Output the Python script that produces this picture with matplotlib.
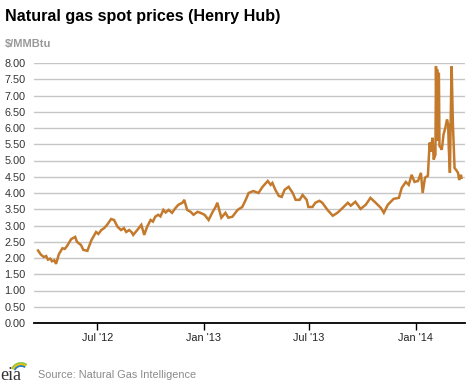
import numpy as np
import pandas as pd
import matplotlib
matplotlib.use("Agg")
import matplotlib.pyplot as plt
import matplotlib.dates as mdates
from matplotlib.patches import Arc

plt.rcParams['font.family'] = ['Liberation Sans', 'DejaVu Sans']

# Henry Hub spot price, $/MMBtu
dates = [
    "2012-03-21", "2012-03-26", "2012-03-31", "2012-04-04", "2012-04-07", "2012-04-11",
    "2012-04-14", "2012-04-18", "2012-04-21", "2012-04-26", "2012-05-02", "2012-05-06",
    "2012-05-10", "2012-05-17", "2012-05-24", "2012-05-27", "2012-06-03", "2012-06-07",
    "2012-06-14", "2012-06-21", "2012-06-29", "2012-07-03", "2012-07-08", "2012-07-13",
    "2012-07-18", "2012-07-25", "2012-07-30", "2012-08-05", "2012-08-11", "2012-08-16",
    "2012-08-20", "2012-08-25", "2012-08-29", "2012-09-01", "2012-09-08", "2012-09-15",
    "2012-09-20", "2012-09-25", "2012-10-01", "2012-10-05", "2012-10-09", "2012-10-14",
    "2012-10-18", "2012-10-23", "2012-10-27", "2012-11-01", "2012-11-07", "2012-11-13",
    "2012-11-18", "2012-11-25", "2012-11-28", "2012-12-03", "2012-12-09", "2012-12-14",
    "2012-12-21", "2012-12-26", "2013-01-02", "2013-01-09", "2013-01-16", "2013-01-21",
    "2013-01-24", "2013-01-31", "2013-02-07", "2013-02-12", "2013-02-19", "2013-02-28",
    "2013-03-08", "2013-03-14", "2013-03-19", "2013-03-27", "2013-04-05", "2013-04-12",
    "2013-04-21", "2013-04-26", "2013-04-29", "2013-05-04", "2013-05-10", "2013-05-15",
    "2013-05-20", "2013-05-27", "2013-06-03", "2013-06-08", "2013-06-15", "2013-06-20",
    "2013-06-27", "2013-06-30", "2013-07-07", "2013-07-12", "2013-07-19", "2013-07-24",
    "2013-08-02", "2013-08-11", "2013-08-19", "2013-08-28", "2013-09-06", "2013-09-11",
    "2013-09-19", "2013-09-28", "2013-10-07", "2013-10-15", "2013-10-24", "2013-11-02",
    "2013-11-07", "2013-11-14", "2013-11-19", "2013-11-24", "2013-12-03", "2013-12-08",
    "2013-12-15", "2013-12-20", "2013-12-25", "2013-12-30", "2014-01-05", "2014-01-10",
    "2014-01-13", "2014-01-17", "2014-01-22", "2014-01-25", "2014-01-27", "2014-01-30",
    "2014-02-01", "2014-02-04", "2014-02-05", "2014-02-06", "2014-02-07", "2014-02-08",
    "2014-02-09", "2014-02-10", "2014-02-11", "2014-02-13", "2014-02-15", "2014-02-18",
    "2014-02-21", "2014-02-24", "2014-02-26", "2014-02-27", "2014-03-01", "2014-03-03",
    "2014-03-04", "2014-03-06", "2014-03-09", "2014-03-12", "2014-03-15", "2014-03-17",
    "2014-03-20", "2014-03-21",
]
prices = [
    2.23, 2.10, 2.03, 2.06, 1.95, 1.98,
    1.90, 1.93, 1.82, 2.12, 2.30, 2.28,
    2.37, 2.58, 2.65, 2.50, 2.40, 2.25,
    2.22, 2.55, 2.80, 2.74, 2.86, 2.92,
    3.02, 3.20, 3.17, 2.96, 2.86, 2.92,
    2.80, 2.86, 2.80, 2.71, 2.86, 3.02,
    2.71, 2.96, 3.17, 3.12, 3.27, 3.33,
    3.28, 3.48, 3.40, 3.48, 3.39, 3.54,
    3.64, 3.70, 3.79, 3.48, 3.42, 3.33,
    3.42, 3.39, 3.33, 3.17, 3.42, 3.57,
    3.70, 3.24, 3.39, 3.24, 3.27, 3.48,
    3.57, 3.79, 4.00, 4.06, 4.00, 4.19,
    4.37, 4.25, 4.31, 4.10, 3.91, 3.88,
    4.10, 4.19, 4.00, 3.79, 3.79, 3.94,
    3.79, 3.57, 3.57, 3.70, 3.76, 3.70,
    3.48, 3.30, 3.39, 3.54, 3.70, 3.61,
    3.73, 3.51, 3.64, 3.85, 3.70, 3.54,
    3.39, 3.64, 3.73, 3.82, 3.85, 4.16,
    4.34, 4.25, 4.56, 4.34, 4.37, 4.62,
    4.00, 4.47, 4.53, 5.55, 5.27, 5.70,
    5.03, 5.18, 7.90, 6.20, 7.80, 5.60,
    7.64, 7.70, 5.45, 5.40, 5.33, 5.80,
    6.00, 6.26, 6.11, 5.40, 4.62, 7.00,
    7.90, 6.20, 4.77, 4.70, 4.62, 4.40,
    4.56, 4.47,
]
y_ticks = np.arange(0, 8.01, 0.5)

x = pd.to_datetime(dates)

fig = plt.figure(figsize=(4.70, 3.83), dpi=100)
ax = fig.add_axes([34 / 470, 60 / 383, 431 / 470, 260 / 383])

ax.plot(x, prices, color='#c47a2c', linewidth=1.8, solid_joinstyle='miter')

ax.set_ylim(0, 8)
ax.set_xlim(pd.Timestamp("2012-03-14"), pd.Timestamp("2014-03-27"))
ax.set_yticks(y_ticks)
ax.set_yticklabels([f"{v:.2f}" for v in y_ticks])
ax.yaxis.grid(True, color='#c6c6c6', linewidth=1.0)
ax.set_axisbelow(True)

ax.xaxis.set_major_locator(mdates.MonthLocator(bymonth=[1, 7]))
ax.xaxis.set_major_formatter(mdates.DateFormatter("%b '%y"))

for side in ['top', 'right', 'left']:
    ax.spines[side].set_visible(False)
ax.spines['bottom'].set_color('black')
ax.spines['bottom'].set_linewidth(1.3)

ax.tick_params(axis='y', length=0, pad=6, labelsize=7.8, labelcolor='#333333')
ax.tick_params(axis='x', length=5, width=1, direction='out', pad=2,
               labelsize=7.8, labelcolor='#222222')

fig.text(5 / 470, 1 - 17 / 383, "Natural gas spot prices (Henry Hub)",
         fontsize=11.6, fontweight='bold', color='black', va='center')
fig.text(5 / 470, 1 - 44 / 383, "$/MMBtu", fontsize=8, fontweight='bold',
         color='#999999', va='center')
fig.text(38 / 470, 1 - 375 / 383, "Source: Natural Gas Intelligence",
         fontsize=7.8, color='#8a8a8a', va='center')

# small eia logo
fig.text(0 / 470, 1 - 376 / 383, "eia", fontsize=13, family='Liberation Serif',
         color='#333333', va='center')
for r, c in [(10, '#8dc63f'), (8.5, '#f2c200'), (7, '#2a7fc1')]:
    fig.add_artist(Arc((21 / 470, 1 - 373 / 383), 2 * r / 470, 2 * r / 383,
                       theta1=60, theta2=150, color=c, linewidth=1.3,
                       transform=fig.transFigure))

fig.savefig("out.png", dpi=100)
